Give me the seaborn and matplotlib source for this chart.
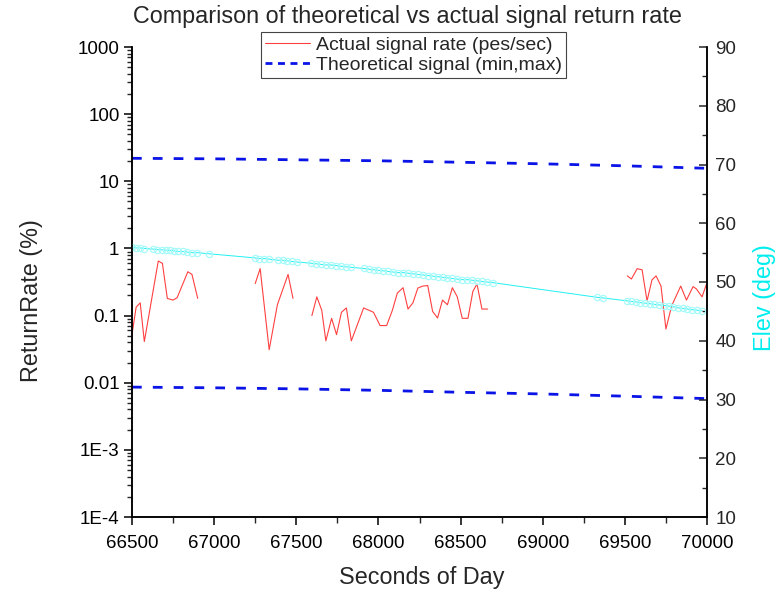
import numpy as np
import pandas as pd
import matplotlib
matplotlib.use("Agg")
import matplotlib.pyplot as plt
from matplotlib.lines import Line2D
from matplotlib.ticker import FixedLocator, FuncFormatter, MultipleLocator, LogLocator, NullFormatter
import seaborn as sns

# ---------------- data ----------------
title = "Comparison of theoretical vs actual signal return rate"
xlabel = "Seconds of Day"
ylabel_left = "ReturnRate (%)"
ylabel_right = "Elev (deg)"
legend_actual = "Actual signal rate (pes/sec)"
legend_theory = "Theoretical signal (min,max)"

# actual signal rate, one list per continuous segment
act_t1 = [66500, 66525, 66550, 66575, 66660, 66685, 66715, 66750, 66775, 66840, 66865, 66900]
act_v1 = [0.052, 0.133, 0.155, 0.041, 0.65, 0.60, 0.18, 0.17, 0.185, 0.45, 0.41, 0.18]
act_t2 = [67250, 67280, 67335, 67385, 67450, 67480]
act_v2 = [0.30, 0.50, 0.031, 0.145, 0.41, 0.18]
act_t3 = [67595, 67625, 67655, 67680, 67715, 67745, 67775, 67805, 67835, 67910, 67970,
          68010, 68050, 68085, 68115, 68150, 68180, 68210, 68240, 68270, 68300, 68330,
          68360, 68390, 68420, 68450, 68480, 68510, 68545, 68575, 68600, 68630, 68665]
act_v3 = [0.10, 0.19, 0.12, 0.042, 0.091, 0.052, 0.112, 0.13, 0.042, 0.13, 0.112,
          0.071, 0.071, 0.12, 0.216, 0.26, 0.125, 0.155, 0.257, 0.275, 0.28, 0.115,
          0.092, 0.17, 0.145, 0.26, 0.19, 0.091, 0.091, 0.23, 0.295, 0.125, 0.125]
act_t4 = [69515, 69540, 69575, 69605, 69635, 69665, 69690, 69720, 69750, 69785, 69840,
          69875, 69915, 69935, 69970, 70000]
act_v4 = [0.39, 0.35, 0.50, 0.48, 0.165, 0.34, 0.39, 0.275, 0.063, 0.14, 0.275,
          0.17, 0.27, 0.25, 0.19, 0.31]

# theoretical min / max
theo_t = [66500, 67000, 67500, 68000, 68500, 69000, 69500, 70000]
theo_max = [22.0, 21.6, 20.9, 20.2, 19.2, 18.2, 17.0, 15.6]
theo_min = [0.0086, 0.0084, 0.0081, 0.0077, 0.0072, 0.0068, 0.0063, 0.0058]

# elevation
elev_t = [66500, 66525, 66550, 66575, 66630, 66655, 66680, 66705, 66730, 66755, 66780,
          66810, 66835, 66865, 66895, 66970,
          67250, 67275, 67305, 67335, 67390, 67417, 67445, 67475, 67505,
          67590, 67620, 67650, 67680, 67710, 67740, 67770, 67800, 67835,
          67910, 67940, 67970, 68000, 68030, 68060, 68090, 68120, 68150, 68180, 68210,
          68240, 68270, 68300, 68330, 68360, 68390, 68420, 68450, 68480, 68510, 68540,
          68570, 68600, 68630, 68660, 68695,
          69330, 69365,
          69510, 69540, 69570, 69595, 69625, 69655, 69680, 69710, 69740, 69770, 69795,
          69825, 69855, 69880, 69910, 69940, 69970]
elev_v = [55.9, 55.8, 55.8, 55.7, 55.6, 55.5, 55.5, 55.4, 55.4, 55.3, 55.2,
          55.2, 55.1, 55.0, 55.0, 54.8,
          54.1, 54.0, 54.0, 53.9, 53.7, 53.7, 53.6, 53.5, 53.4,
          53.2, 53.1, 53.0, 52.9, 52.9, 52.8, 52.7, 52.6, 52.5,
          52.3, 52.2, 52.1, 52.0, 51.9, 51.8, 51.7, 51.6, 51.6, 51.5, 51.4,
          51.3, 51.2, 51.1, 51.0, 50.9, 50.8, 50.7, 50.6, 50.5, 50.4, 50.4,
          50.3, 50.2, 50.1, 50.0, 49.9,
          47.4, 47.3,
          46.8, 46.7, 46.6, 46.5, 46.4, 46.3, 46.2, 46.1, 46.0, 45.9, 45.8,
          45.6, 45.5, 45.4, 45.3, 45.2, 45.1]

left_ticks = [1e-4, 1e-3, 1e-2, 1e-1, 1, 10, 100, 1000]
left_ticklabels = ["1E-4", "1E-3", "0.01", "0.1", "1", "10", "100", "1000"]
x_ticks = [66500, 67000, 67500, 68000, 68500, 69000, 69500, 70000]
right_ticks = [10, 20, 30, 40, 50, 60, 70, 80, 90]

# ---------------- tables ----------------
act_df = pd.concat([
    pd.DataFrame({"t": act_t1, "v": act_v1, "seg": 1}),
    pd.DataFrame({"t": act_t2, "v": act_v2, "seg": 2}),
    pd.DataFrame({"t": act_t3, "v": act_v3, "seg": 3}),
    pd.DataFrame({"t": act_t4, "v": act_v4, "seg": 4}),
], ignore_index=True)
theo_df = pd.concat([
    pd.DataFrame({"t": theo_t, "v": theo_max, "kind": "max"}),
    pd.DataFrame({"t": theo_t, "v": theo_min, "kind": "min"}),
], ignore_index=True)
elev_df = pd.DataFrame({"t": elev_t, "e": elev_v})

# ---------------- style ----------------
sns.set_theme(style="ticks")
plt.rcParams["font.family"] = ["Liberation Sans", "DejaVu Sans"]
plt.rcParams["axes.linewidth"] = 1.1

RED = "#ff4040"
BLUE = "#0a14e6"
CYAN = "#22f0f0"
CYAN_M = "#a8fafa"

fig = plt.figure(figsize=(7.84, 5.93), dpi=100)
ax = fig.add_axes([132 / 784, 1 - 517 / 593, 575 / 784, 470 / 593])
ax2 = ax.twinx()

# left axis lines
sns.lineplot(data=act_df, x="t", y="v", units="seg", estimator=None, ax=ax,
             color=RED, linewidth=0.8, sort=False)
sns.lineplot(data=theo_df, x="t", y="v", units="kind", estimator=None, ax=ax,
             color=BLUE, linewidth=2.0, linestyle=(0, (3.5, 4.0)), sort=False)

# right axis elevation
sns.lineplot(data=elev_df, x="t", y="e", ax=ax2, estimator=None, color=CYAN,
             linewidth=0.7, marker="o", markersize=4.5, markerfacecolor="none",
             markeredgecolor=CYAN_M, markeredgewidth=0.9, sort=False)

ax.set_yscale("log")
ax.set_ylim(1e-4, 1e3)
ax.set_xlim(66500, 70000)
ax2.set_ylim(10, 90)

ax.yaxis.set_major_locator(FixedLocator(left_ticks))
ax.yaxis.set_major_formatter(FuncFormatter(
    lambda v, p: dict(zip(left_ticks, left_ticklabels)).get(v, "")))
ax.yaxis.set_minor_locator(LogLocator(base=10, subs=np.arange(2, 10), numticks=50))
ax.yaxis.set_minor_formatter(NullFormatter())
ax.xaxis.set_major_locator(FixedLocator(x_ticks))
ax.xaxis.set_minor_locator(MultipleLocator(250))
ax.xaxis.set_major_formatter(FuncFormatter(lambda v, p: f"{int(v)}"))

ax2.yaxis.set_major_locator(FixedLocator(right_ticks))
ax2.yaxis.set_minor_locator(MultipleLocator(5))

ax.tick_params(axis="both", which="major", direction="out", length=6, width=1.1,
               labelsize=13.5, colors="black", pad=3)
ax.tick_params(axis="x", which="major", pad=7)
ax.tick_params(axis="both", which="minor", direction="out", length=3.5, width=1.0)
ax.tick_params(axis="x", which="minor", length=4)
ax2.tick_params(axis="y", which="major", direction="in", length=6, width=1.1,
                labelsize=13.5, pad=6)
ax2.tick_params(axis="y", which="minor", direction="in", length=3.5, width=1.0)

for a in (ax, ax2):
    a.spines["top"].set_visible(False)
    for s in ("left", "right", "bottom"):
        a.spines[s].set_color("black")
        a.spines[s].set_linewidth(1.1)
    a.grid(False)
ax.spines["right"].set_visible(True)

ax.set_xlabel(xlabel, fontsize=16.8)
ax.set_ylabel(ylabel_left, fontsize=16.8)
ax2.set_ylabel(ylabel_right, fontsize=16.8, color="#00eeee")
ax.xaxis.set_label_coords(0.504, -0.105)
ax.yaxis.set_label_coords(-0.155, 0.46)
ax2.yaxis.set_label_coords(1.08, 0.466)

fig.text(407 / 784, 1 - 17 / 593, title, ha="center", va="center", fontsize=16.8)

handles = [Line2D([0], [0], color=RED, linewidth=0.8),
           Line2D([0], [0], color=BLUE, linewidth=2.0, linestyle=(0, (2.5, 2.0)))]
leg = fig.legend(handles, [legend_actual, legend_theory], loc="upper center",
                 bbox_to_anchor=(413.5 / 784, 1 - 32 / 593), fontsize=14,
                 frameon=True, fancybox=False, framealpha=1, edgecolor="#444444",
                 handlelength=2.3, handletextpad=0.3, labelspacing=0.15,
                 borderpad=0.2, borderaxespad=0)
leg.get_frame().set_linewidth(0.8)

fig.savefig("out.png", dpi=100)
